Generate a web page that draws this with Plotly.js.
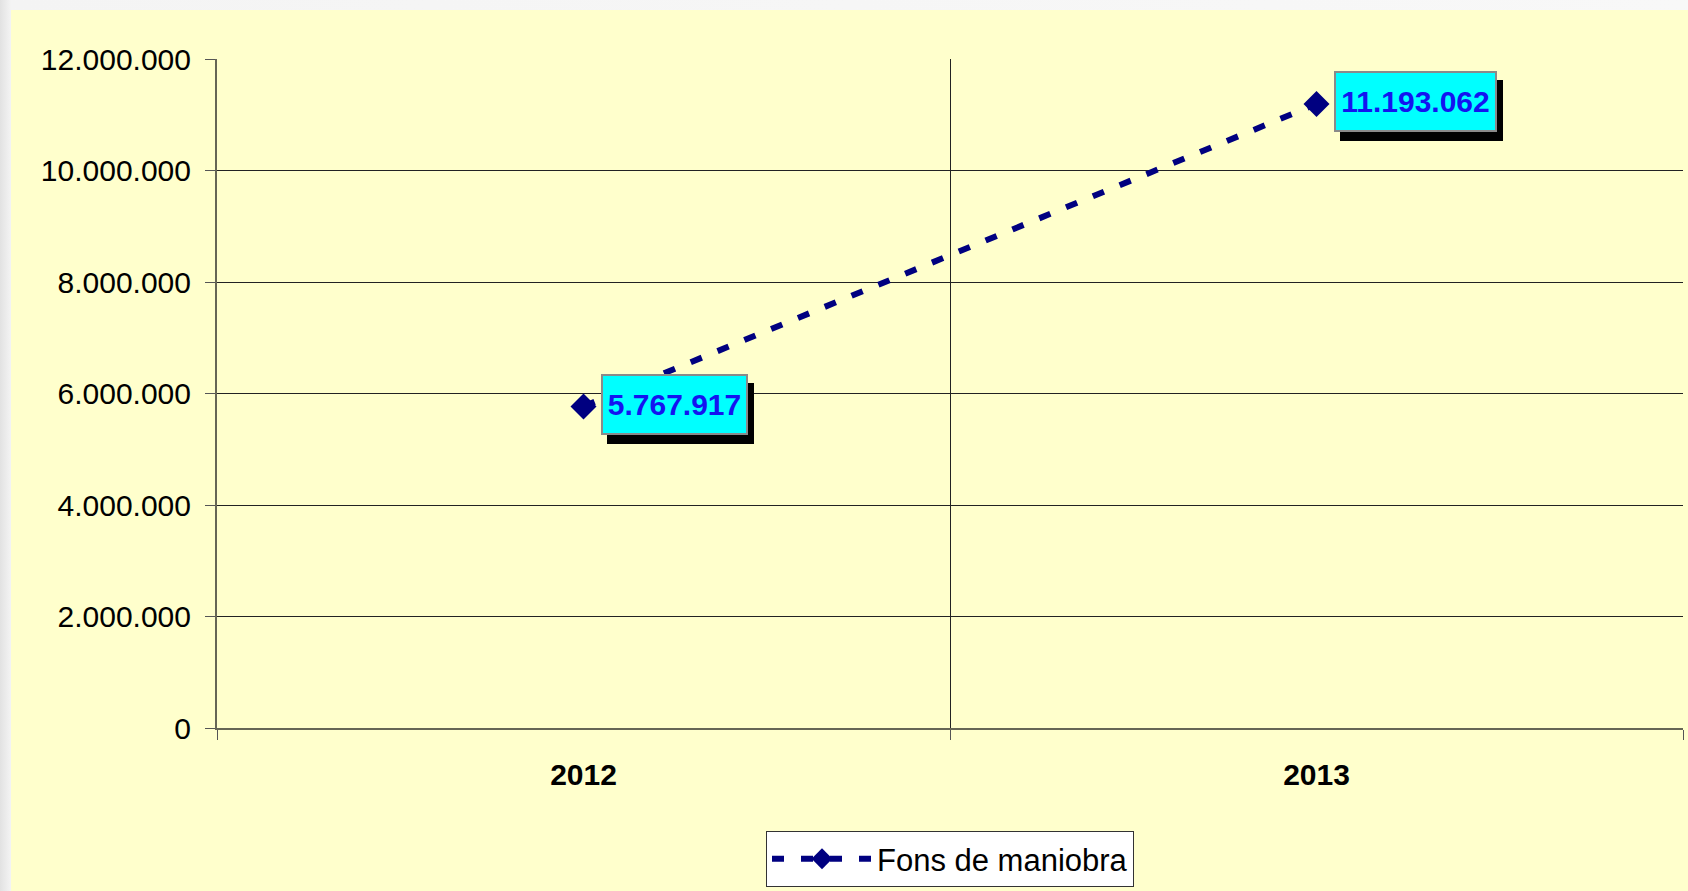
<!DOCTYPE html>
<html>
<head>
<meta charset="utf-8">
<script src="https://cdn.plot.ly/plotly-3.0.1.min.js"></script>
<style>
  html, body { margin: 0; padding: 0; width: 1688px; height: 891px; overflow: hidden;
    background: linear-gradient(90deg, #e2e2e2 0px, #f4f4f4 11px, #f8f8f8 100%); }
  #chart { position: absolute; left: 11px; top: 10px; width: 1677px; height: 881px; }
</style>
</head>
<body>
<div id="chart"></div>
<script>
const categories = ['2012', '2013'];
const seriesName = 'Fons de maniobra';
const values = [5767917, 11193062];
const valueLabels = ['5.767.917', '11.193.062'];
const yTicks = [0, 2000000, 4000000, 6000000, 8000000, 10000000, 12000000];

const xIdx = categories.map((c, i) => i);
const font = 'Liberation Sans, Arial, sans-serif';

const trace = {
  x: xIdx, y: values, name: seriesName, type: 'scatter', mode: 'lines+markers',
  line: { color: '#000080', width: 6, dash: '12px,17px' },
  marker: { symbol: 'diamond', size: 20, color: '#000080' },
  hoverinfo: 'skip', cliponaxis: false
};
const labelTrace = {
  x: xIdx, y: values.map(() => null), xaxis: 'x2', yaxis: 'y', showlegend: false,
  type: 'scatter', mode: 'markers', hoverinfo: 'skip'
};

const annotations = [];
values.forEach((v, i) => {
  const w = valueLabels[i].length > 9 ? 151 : 135;
  // shadow box (no text)
  annotations.push({
    x: xIdx[i], y: v, xref: 'x', yref: 'y', text: '&nbsp;',
    showarrow: false, xanchor: 'left', yanchor: 'middle', xshift: 23, yshift: -7,
    width: w, height: 49,
    font: { family: font, size: 30, color: '#000000' },
    bgcolor: '#000000', bordercolor: '#000000', borderwidth: 2, borderpad: 4
  });
  annotations.push({
    x: xIdx[i], y: v, xref: 'x', yref: 'y', text: '<b>' + valueLabels[i] + '</b>',
    showarrow: false, xanchor: 'left', yanchor: 'middle', xshift: 17, yshift: 2,
    width: w, height: 49,
    font: { family: font, size: 30, color: '#1414f0' },
    bgcolor: '#00ffff', bordercolor: '#8a8a8a', borderwidth: 2, borderpad: 4
  });
});

const layout = {
  width: 1677, height: 881,
  paper_bgcolor: '#ffffcc', plot_bgcolor: '#ffffcc',
  margin: { l: 206, r: 5, t: 49, b: 163, autoexpand: false },
  separators: ',.',
  showlegend: true,
  legend: {
    x: 0.5, xref: 'paper', xanchor: 'center', y: 0.068, yref: 'container', yanchor: 'top',
    orientation: 'h',
    bgcolor: '#ffffff', bordercolor: '#333333', borderwidth: 1,
    font: { family: font, size: 31, color: '#000000' },
    itemwidth: 100
  },
  xaxis: {
    type: 'linear', range: [-0.5, 1.5], tickmode: 'array', tickvals: [-0.5, 0.5, 1.5],
    ticktext: ['', '', ''], showticklabels: false, ticks: 'outside', ticklen: 10,
    tickcolor: '#555555', tickwidth: 1, showgrid: true, gridcolor: '#222222', gridwidth: 1,
    zeroline: false, showline: true, linecolor: '#666655', linewidth: 2, fixedrange: true,
    automargin: false
  },
  xaxis2: {
    overlaying: 'x', type: 'linear', range: [-0.5, 1.5], tickmode: 'array',
    tickvals: xIdx, ticktext: categories, ticks: '', showgrid: false, zeroline: false,
    showline: false, side: 'bottom', ticklabelstandoff: 26, automargin: false,
    tickfont: { family: font, size: 30, color: '#000000', weight: 'bold' }, fixedrange: true
  },
  yaxis: {
    range: [0, 12000000], tickmode: 'array', tickvals: yTicks, tickformat: ',d',
    ticks: 'outside', ticklen: 10, tickcolor: '#555555', showgrid: true, gridcolor: '#222222',
    gridwidth: 1, zeroline: false, showline: true, linecolor: '#666655', linewidth: 2,
    tickfont: { family: font, size: 30, color: '#000000' }, ticklabelstandoff: 8, fixedrange: true,
    automargin: false
  },
  annotations: annotations
};

Plotly.newPlot('chart', [trace, labelTrace], layout, { displayModeBar: false, staticPlot: true });
</script>
</body>
</html>
